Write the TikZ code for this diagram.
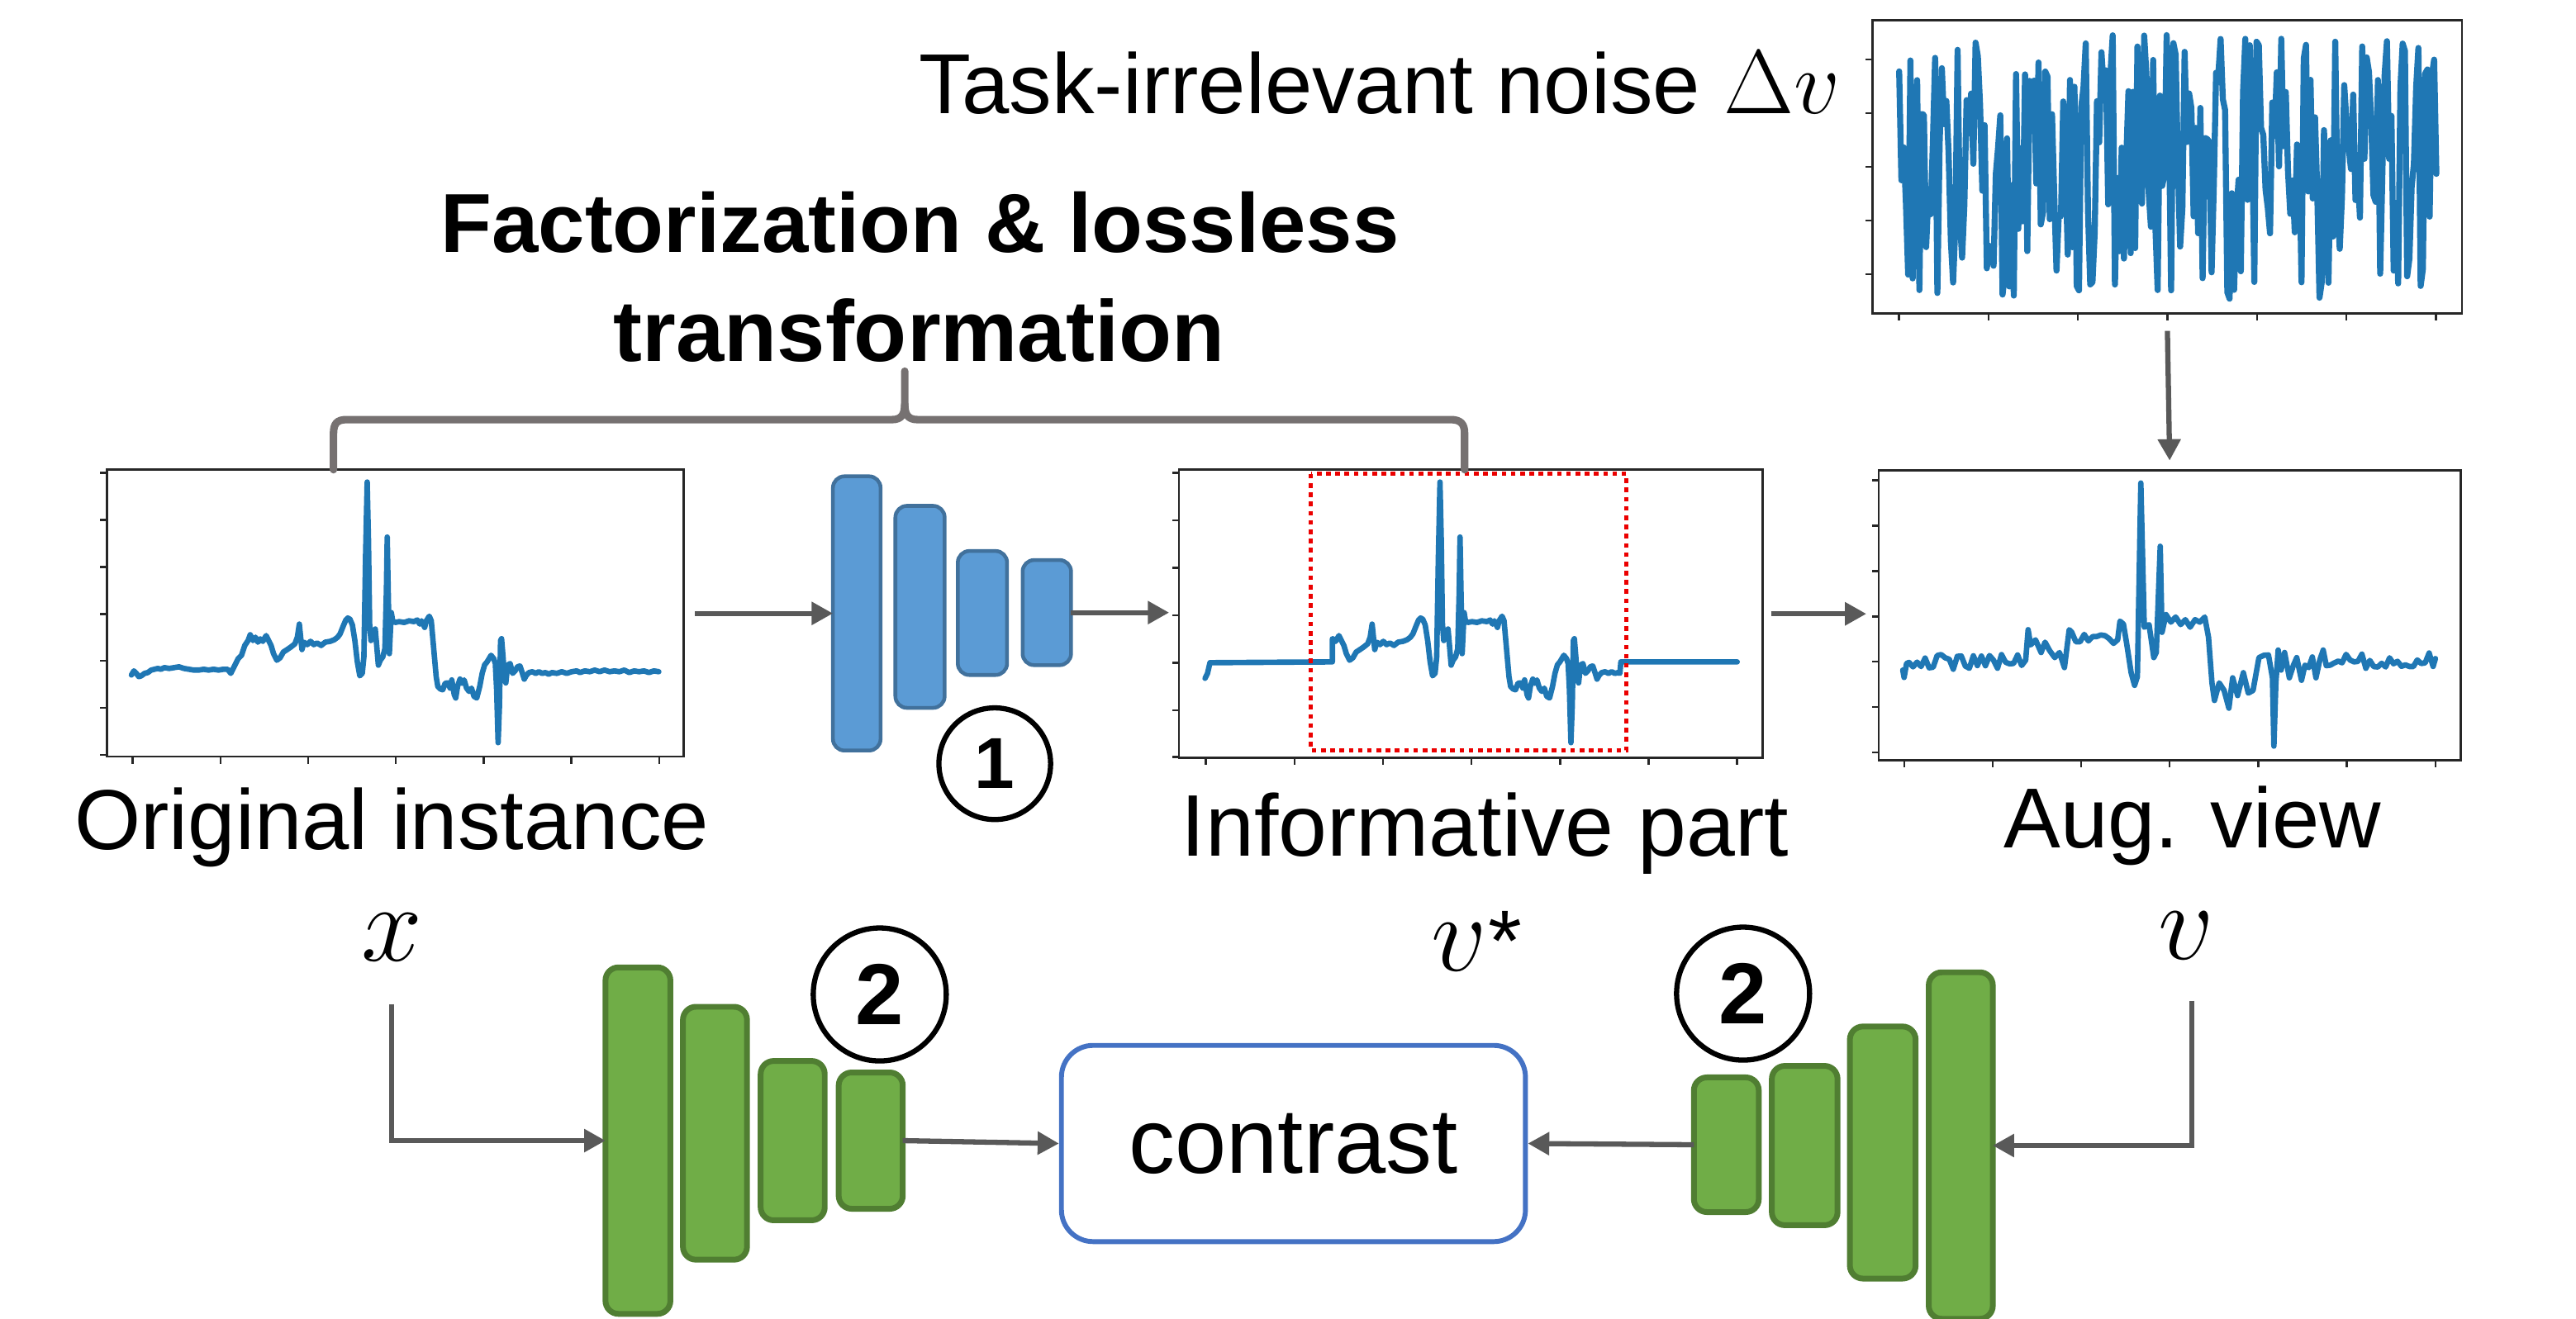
\RequirePackage{fix-cm}
\documentclass[tikz,border=0pt]{standalone}
\usepackage{fontspec}
\setmainfont{Liberation Sans}
\usetikzlibrary{arrows.meta}
\definecolor{sigblue}{RGB}{31,119,180}
\definecolor{arrgray}{RGB}{89,89,89}
\definecolor{bracegray}{RGB}{118,113,113}
\definecolor{bluefill}{RGB}{91,155,213}
\definecolor{blueedge}{RGB}{65,113,156}
\definecolor{greenfill}{RGB}{112,173,71}
\definecolor{greenedge}{RGB}{80,126,50}
\definecolor{boxblue}{RGB}{68,114,196}
\definecolor{redbox}{RGB}{235,0,0}
\def\sigStart{(80,411) -- (81.5,408.5) -- (83,410) -- (84.5,412) -- (86,411.5) -- (88,410) -- (90,409.5) -- (92,408) -- (94,407.5) -- (96,407) -- (98,407.5) -- (100,406.5) -- (103,407) -- (106,406.5) -- (109,406) -- (112,407) -- (115,407.5) -- (118,408) -- (121,408) -- (124,407.5) -- (127,408) -- (130,407.5) -- (133,408) -- (136,407.5) -- (138.5,407.5) -- (140.5,410) -- (143,405) -- (145,401) -- (147,399) -- (149,393) -- (151,390) -- (152.3,386.5) -- (154,390) -- (155.5,388) -- (157,391)}
\def\sigMid{-- (158.5,389) -- (160,390.5) -- (162,387) -- (163.5,390) -- (165,393) -- (166.5,398) -- (168.5,402) -- (170.5,400.5) -- (172.5,397) -- (174.8,395.5) -- (177,394) -- (179.5,392) -- (181,388) -- (182.2,380) -- (183,388) -- (183.8,395.5) -- (185,391) -- (187,392.5) -- (189,390.5) -- (191,392.5) -- (193,391.5) -- (195.5,393) -- (198,391) -- (201,390.5) -- (203.5,389.5) -- (205.5,388) -- (207,386) -- (209,381) -- (210.5,377.5) -- (211.7,376.3) -- (213,377) -- (214.5,380.5) -- (216,390) -- (217.5,403) -- (219,411.5) -- (220.5,410) -- (221.5,400) -- (222.5,340) -- (223.5,293.5) -- (224.3,330) -- (225,380) -- (225.8,390) -- (227,386) -- (228.4,383) -- (229.2,392) -- (230.3,405) -- (231.5,402) -- (233,400) -- (234.3,395) -- (235.2,360) -- (235.7,327) -- (236.3,360) -- (237,398) -- (237.6,385) -- (238.2,373) -- (239,378) -- (240.5,379) -- (243,378.5) -- (246,379) -- (249,378) -- (252,378.5) -- (254,377.5) -- (255.5,380) -- (256.6,378) -- (258.5,382) -- (259.5,378) -- (261.3,375.2) -- (262.5,378) -- (264,395) -- (265.5,412) -- (266.5,418) -- (268,419.5) -- (269.5,420) -- (271,416) -- (272.6,415.8) -- (274,419) -- (275,414) -- (276.5,423) -- (277.4,425) -- (278.5,418) -- (280,413.5) -- (281.2,416) -- (282.5,414) -- (284,419) -- (285.5,421) -- (287,419) -- (288.5,424) -- (290.2,425) -- (292,418) -- (293.5,410) -- (295,404.8) -- (296.5,403) -- (298.9,399) -- (300.5,401) -- (301.5,404) -- (302.3,420) -- (303.2,452.2) -- (304,430) -- (304.7,390) -- (305.3,388.9) -- (306.2,400) -- (307.2,414) -- (307.9,415.8) -- (309,405) -- (310.5,404) -- (312,410) -- (313.5,408.5) -- (315,406) -- (316.5,405.5) -- (318,410) -- (319.1,413.5) -- (320.5,411) -- (322,409.5) -- (324,409) -- (326,410) -- (328,409) -- (330,410) -- (332,409.5)}
\def\sigEnd{-- (334,410.5) -- (336,409.5) -- (339,410) -- (342,409) -- (345,410) -- (348,409) -- (351,408.5) -- (353,409.5) -- (356,408.5) -- (359,409) -- (362,408) -- (365,409) -- (368,408) -- (371,409) -- (374,408.5) -- (377,409) -- (380,408) -- (383,409.5) -- (386,408.5) -- (389,409) -- (392,408.5) -- (395,409.5) -- (398,408.5) -- (401,409)}
\begin{document}
\begin{tikzpicture}[x=0.02cm,y=-0.02cm,
  sigline/.style={draw=sigblue,line width=1.9pt,line join=round,line cap=round},
  plotframe/.style={draw=black!85,line width=0.8pt,inner sep=0pt,outer sep=0pt},
  tick/.style={draw=black!85,line width=0.7pt},
  conn/.style={draw=arrgray,line width=1.8pt,-{Triangle[length=0.26cm,width=0.27cm]}},
  lbl/.style={inner sep=0pt,anchor=base,font=\fontsize{29.5}{35}\selectfont},
  mathlbl/.style={inner sep=0pt,anchor=base,font=\fontsize{38}{44}\selectfont},
  bluebar/.style={draw=blueedge,fill=bluefill,line width=1.3pt,rounded corners=4pt,inner sep=0pt,outer sep=0pt},
  greenbar/.style={draw=greenedge,fill=greenfill,line width=2pt,rounded corners=4.5pt,inner sep=0pt,outer sep=0pt},
  numcirc/.style={circle,draw=black,line width=1.8pt,inner sep=0pt,font=\bfseries}
]
\useasboundingbox (0,0) rectangle (1568,803);
\pgfmathsetseed{20}

% ---------- plot frames
\node[plotframe,minimum width=7.02cm,minimum height=3.494cm] (p1) at (240.5,373.35) {};
\node[plotframe,minimum width=7.108cm,minimum height=3.51cm] (p2) at (895.3,373.75) {};
\node[plotframe,minimum width=7.09cm,minimum height=3.532cm] (aug) at (1320.75,374.7) {};
\node[plotframe,minimum width=7.18cm,minimum height=3.574cm] (noise) at (1319.1,101.65) {};

% ticks
\foreach \yy in {288,316.6,345.2,373.8,402.4,431,459.6} \draw[tick] (65,\yy) -- (61,\yy);
\foreach \xx in {80.8,134.2,187.6,241,294.4,347.8,401.2} \draw[tick] (\xx,460.7) -- (\xx,465);
\foreach \yy in {287.8,316.8,345.8,374.7,403.5,432.5,461} \draw[tick] (717.6,\yy) -- (713.6,\yy);
\foreach \xx in {734,787.9,841.8,895.7,949.6,1003.5,1057.4} \draw[tick] (\xx,461.5) -- (\xx,465.8);
\foreach \yy in {292.5,320.1,347.7,375.3,402.9,430.5,458.1} \draw[tick] (1143.5,\yy) -- (1139.5,\yy);
\foreach \xx in {1159,1212.9,1266.8,1320.7,1374.6,1428.5,1482.4} \draw[tick] (\xx,463) -- (\xx,467.3);
\foreach \yy in {36.3,69,101.7,134.4,167.1} \draw[tick] (1139.6,\yy) -- (1135.6,\yy);
\foreach \xx in {1155.8,1210.3,1264.8,1319.3,1373.8,1428.3,1482.8} \draw[tick] (\xx,191) -- (\xx,195.3);

% ---------- signals
\draw[sigline] \sigStart \sigMid \sigEnd;
\begin{scope}[shift={(653,0)}]
\draw[sigline] (80.5,413) -- (82,410) -- (83.5,403.5) -- (158,403) -- (158,389) \sigMid -- (333,410) -- (333.6,403) -- (404.4,403);
\end{scope}
\begin{scope}[shift={(1078,0)}]
\draw[sigline] (80.2,408) -- (81,412.5) -- (82.5,404)
 -- plot[domain=84:155,samples=30] (\x,{403+4.5*rand})
 -- (156.5,383.4) -- (158,392.7) -- (161,389.6) -- (164.4,397.3) -- (166.8,391) -- (169.5,396) -- (172.7,400.4) -- (175.6,397.3) -- (178.6,406.5) -- (181.5,383.4)
 -- plot[domain=183:211,samples=12] (\x,{388+4*rand})
 -- (212.4,378.2) -- (214.5,380) -- (216.5,392) -- (219.2,409.6) -- (221.3,417.3) -- (223,412) -- (225.1,294.1) -- (227.2,381.9) -- (230.1,380.3) -- (233,400.4) -- (234.5,397.3) -- (236.9,332.6) -- (238,385) -- (240.4,374.2) -- (243.4,378.8) -- (246.3,375.7) -- (249.3,380.3) -- (252.2,377.3) -- (255.1,381.9) -- (258.1,377.3) -- (261,378.8) -- (264,375.7) -- (266.3,388) -- (268.4,415.8) -- (269.9,426.5) -- (272.8,415.8) -- (275.8,420.4) -- (278.7,431.2) -- (281,412.7) -- (284,423.5) -- (287.5,409.6) -- (290.5,422) -- (293.4,420.4) -- (297,400.4) -- (300,399) -- (302.8,398.8) -- (305.2,412.7) -- (306.1,454.3) -- (307.3,415.8) -- (308.7,395.8) -- (310.5,408) -- (312.6,397.3) -- (315.5,412.7) -- (318,405) -- (320,400.4) -- (322.9,414.2) -- (325,405) -- (327.3,406.5) -- (329.5,400) -- (331.7,412.7) -- (334,402) -- (336.1,395.8)
 -- plot[domain=338:403,samples=28] (\x,{402+5*rand}) -- (404.4,401);
\end{scope}
\draw[sigline,line width=2.1pt] plot[domain=1156:1483,samples=240] (\x,{101+81*rand});

% red dotted box
\draw[redbox,line width=1.4pt,dash pattern=on 1.6pt off 1.6pt] (798,288.6) rectangle (990,456.8);

% ---------- encoders
\node[bluebar,minimum width=0.58cm,minimum height=3.34cm] (b1) at (521.5,373.5) {};
\node[bluebar,minimum width=0.6cm,minimum height=2.46cm] (b2) at (560,369.5) {};
\node[bluebar,minimum width=0.6cm,minimum height=1.51cm] (b3) at (598,373.25) {};
\node[bluebar,minimum width=0.59cm,minimum height=1.28cm] (b4) at (637.2,373) {};

\node[greenbar,minimum width=0.79cm,minimum height=4.22cm] (g1) at (388.3,694.5) {};
\node[greenbar,minimum width=0.78cm,minimum height=3.08cm] (g2) at (435.2,690) {};
\node[greenbar,minimum width=0.78cm,minimum height=1.94cm] (g3) at (482.5,694.5) {};
\node[greenbar,minimum width=0.78cm,minimum height=1.66cm] (g4) at (530,694.5) {};

\node[greenbar,minimum width=0.79cm,minimum height=1.64cm] (ga) at (1050.8,697) {};
\node[greenbar,minimum width=0.8cm,minimum height=1.94cm] (gb) at (1098.5,697.5) {};
\node[greenbar,minimum width=0.8cm,minimum height=3.07cm] (gc) at (1146,701.75) {};
\node[greenbar,minimum width=0.78cm,minimum height=4.22cm] (gd) at (1193.5,697.5) {};

\node[numcirc,minimum size=1.36cm,font=\bfseries\fontsize{25}{30}\selectfont] (c1) at (605.5,465) {1};
\node[numcirc,minimum size=1.62cm,font=\bfseries\fontsize{30}{36}\selectfont] (c2l) at (535.5,605.5) {2};
\node[numcirc,minimum size=1.62cm,font=\bfseries\fontsize{30}{36}\selectfont] (c2r) at (1061,605) {2};

% contrast box
\node[draw=boxblue,line width=1.7pt,rounded corners=11pt,minimum width=5.65cm,minimum height=2.39cm,inner sep=0pt,font=\fontsize{32}{38}\selectfont] (con) at (787.3,696.25) {contrast};

% ---------- texts
\node[lbl] (tnoise) at (840,69) {Task-irrelevant noise {\fontsize{31.5}{36}\selectfont$\Delta v$}};
\node[lbl,font=\bfseries\fontsize{29}{35}\selectfont] (tfac1) at (560,153.4) {Factorization \& lossless};
\node[lbl,font=\bfseries\fontsize{30}{36}\selectfont] (tfac2) at (559.5,219.9) {transformation};
\node[lbl] (torig) at (238.5,517) {Original instance};
\node[lbl,font=\fontsize{30.3}{36}\selectfont] (tinfo) at (904,521) {Informative part};
\node[lbl] (taug) at (1334.5,516) {Aug. view};
\node[mathlbl] (xl) at (238.5,585) {$x$};
\node[mathlbl] (vsl) at (899,591) {$v$\fontsize{30}{36}\selectfont\kern0.5pt*};
\node[mathlbl] (vl) at (1331,584) {$v$};

% ---------- brace
\draw[bracegray,line width=2.6pt,line cap=round,line join=round]
 (203,286) -- (203,264) .. controls (203,258) and (205,255.5) .. (211,255.5) -- (543,255.5)
 .. controls (549,255.5) and (550.7,252) .. (550.7,246) -- (550.7,226);
\draw[bracegray,line width=2.6pt,line cap=round,line join=round]
 (550.7,246) .. controls (550.7,252) and (552.4,255.5) .. (558.4,255.5) -- (883,255.5)
 .. controls (889,255.5) and (891.5,258) .. (891.5,264) -- (891.5,286);

% ---------- connectors
\draw[conn,shorten <=0.14cm] (p1.east |- b1.west) -- (b1.west);
\draw[conn,shorten >=0.12cm] (b4.east) -- (p2.west |- b4.east);
\draw[conn,shorten <=0.1cm,shorten >=0.15cm] (p2.east) -- (aug.west |- p2.east);
\draw[conn,shorten <=0.21cm,shorten >=0.12cm] (noise.south) -- (aug.north);
\draw[conn,shorten <=0.52cm] (xl.south) |- (g1.west);
\draw[conn] (g4.east) -- (con.west);
\draw[conn] (ga.west) -- (con.east);
\draw[conn,shorten <=0.5cm] (vl.south -| 1334,0) |- (gd.east);
\end{tikzpicture}
\end{document}
